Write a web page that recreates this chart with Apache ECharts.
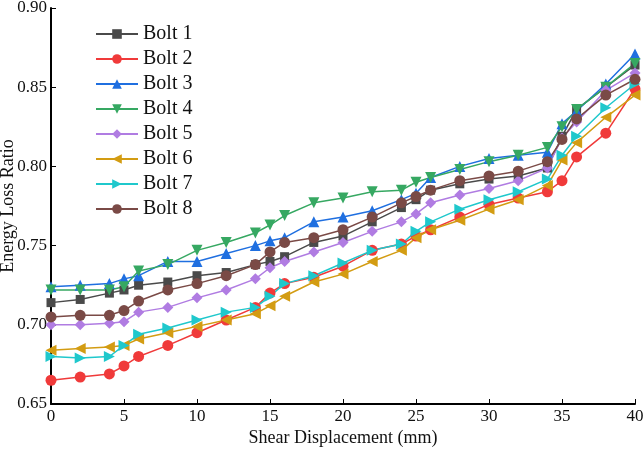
<!DOCTYPE html>
<html>
<head>
<meta charset="utf-8">
<script src="https://cdn.jsdelivr.net/npm/echarts@6/dist/echarts.min.js"></script>
<style>
  html, body { margin: 0; padding: 0; background: #fff; }
  #chart { width: 644px; height: 450px; }
</style>
</head>
<body>
<div id="chart"></div>
<script>
// shear displacement (mm)
const displacement = [0, 2, 4, 5, 6, 8, 10, 12, 14, 15, 16, 18, 20, 22, 24, 25, 26, 28, 30, 32, 34, 35, 36, 38, 40];

const bolt1 = [0.714, 0.716, 0.720, 0.722, 0.725, 0.727, 0.731, 0.733, 0.738, 0.740, 0.743, 0.752, 0.756, 0.765, 0.774, 0.779, 0.785, 0.789, 0.792, 0.794, 0.799, 0.819, 0.836, 0.850, 0.864];
const bolt2 = [0.665, 0.667, 0.669, 0.674, 0.680, 0.687, 0.695, 0.703, 0.711, 0.720, 0.726, 0.730, 0.737, 0.747, 0.751, 0.756, 0.760, 0.768, 0.776, 0.780, 0.784, 0.791, 0.806, 0.821, 0.849];
const bolt3 = [0.724, 0.725, 0.726, 0.729, 0.731, 0.740, 0.740, 0.745, 0.750, 0.753, 0.755, 0.765, 0.768, 0.772, 0.779, 0.783, 0.793, 0.800, 0.805, 0.807, 0.809, 0.827, 0.835, 0.852, 0.871];
const bolt4 = [0.722, 0.722, 0.722, 0.724, 0.734, 0.738, 0.747, 0.752, 0.758, 0.763, 0.769, 0.777, 0.780, 0.784, 0.785, 0.790, 0.793, 0.798, 0.803, 0.807, 0.812, 0.825, 0.836, 0.850, 0.865];
const bolt5 = [0.700, 0.700, 0.701, 0.702, 0.708, 0.711, 0.717, 0.722, 0.729, 0.736, 0.740, 0.746, 0.752, 0.759, 0.765, 0.770, 0.777, 0.782, 0.786, 0.791, 0.799, 0.818, 0.828, 0.848, 0.859];
const bolt6 = [0.684, 0.685, 0.686, 0.687, 0.691, 0.695, 0.699, 0.703, 0.707, 0.712, 0.718, 0.727, 0.732, 0.740, 0.747, 0.755, 0.760, 0.766, 0.773, 0.779, 0.788, 0.804, 0.815, 0.831, 0.845];
const bolt7 = [0.680, 0.679, 0.680, 0.687, 0.694, 0.698, 0.703, 0.708, 0.711, 0.718, 0.726, 0.731, 0.739, 0.747, 0.751, 0.759, 0.765, 0.773, 0.779, 0.784, 0.792, 0.807, 0.819, 0.837, 0.852];
const bolt8 = [0.705, 0.706, 0.706, 0.709, 0.715, 0.722, 0.726, 0.731, 0.738, 0.746, 0.752, 0.755, 0.760, 0.768, 0.777, 0.781, 0.785, 0.791, 0.794, 0.797, 0.803, 0.817, 0.830, 0.845, 0.855];

const names = ['Bolt 1', 'Bolt 2', 'Bolt 3', 'Bolt 4', 'Bolt 5', 'Bolt 6', 'Bolt 7', 'Bolt 8'];
const values = [bolt1, bolt2, bolt3, bolt4, bolt5, bolt6, bolt7, bolt8];
const colors = ['#4a4a4a', '#f03a3a', '#1f6fe0', '#36a862', '#b07ce2', '#d39c12', '#1fc8cc', '#7a4a46'];
const symbols = [
  'rect',
  'circle',
  'triangle',
  'path://M0,0 L10,0 L5,9 Z',
  'diamond',
  'path://M0,5 L9,0 L9,10 Z',
  'path://M9,5 L0,0 L0,10 Z',
  'circle'
];

const font = '"Liberation Serif", "Times New Roman", serif';

const chart = echarts.init(document.getElementById('chart'));

const series = names.map((name, i) => ({
  name: name,
  type: 'line',
  data: displacement.map((x, j) => [x, values[i][j]]),
  symbol: symbols[i],
  symbolSize: i === 0 ? 9 : 11,
  lineStyle: { width: 1.5, color: colors[i] },
  itemStyle: { color: colors[i] },
  emphasis: { disabled: true },
  animation: false
}));

chart.setOption({
  backgroundColor: '#fff',
  grid: { left: 51, right: 9, top: 8, bottom: 46, containLabel: false, outerBoundsMode: 'none' },
  legend: {
    orient: 'vertical',
    left: 90,
    top: 19,
    itemWidth: 42,
    itemHeight: 12,
    itemGap: 5,
    textStyle: { fontFamily: font, fontSize: 20, color: '#111' },
    data: names
  },
  xAxis: {
    type: 'value',
    min: 0,
    max: 40,
    interval: 5,
    name: 'Shear Displacement (mm)',
    nameLocation: 'middle',
    nameGap: 25,
    nameMoveOverlap: false,
    nameTextStyle: { fontFamily: font, fontSize: 18, color: '#111' },
    axisLine: { lineStyle: { color: '#000', width: 2 } },
    axisTick: { inside: true, length: 5, lineStyle: { color: '#000' } },
    axisLabel: { fontFamily: font, fontSize: 17, color: '#111', margin: 4 },
    splitLine: { show: false }
  },
  yAxis: {
    type: 'value',
    min: 0.65,
    max: 0.90,
    interval: 0.05,
    name: 'Energy Loss Ratio',
    nameLocation: 'middle',
    nameGap: 34,
    nameMoveOverlap: false,
    nameTextStyle: { fontFamily: font, fontSize: 18, color: '#111' },
    axisLine: { show: true, lineStyle: { color: '#000', width: 2 } },
    axisTick: { show: true, inside: true, length: 5, lineStyle: { color: '#000' } },
    axisLabel: { fontFamily: font, fontSize: 17, color: '#111', margin: 4, formatter: v => v.toFixed(2) },
    splitLine: { show: false }
  },
  series: series
});
</script>
</body>
</html>
